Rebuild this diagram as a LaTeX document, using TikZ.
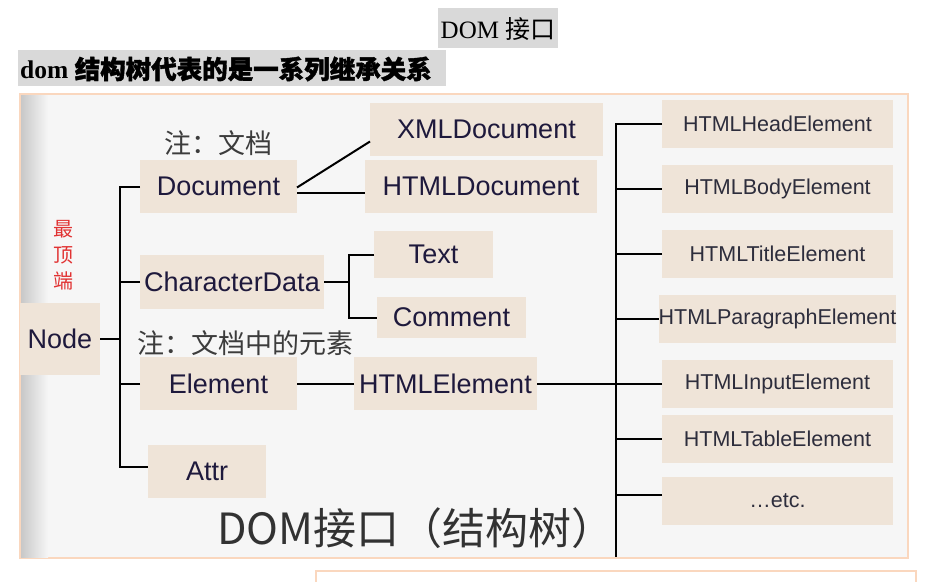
\documentclass[tikz,border=0pt]{standalone}
\usepackage{fontspec}
\setmainfont{Liberation Serif}
\newfontfamily\sansfont{Liberation Sans}
\newfontfamily\cjkfont{Noto Sans CJK SC}
\newfontfamily\cjkboldfont{Noto Sans CJK SC}[FakeBold=1.5]
\definecolor{classfill}{RGB}{239,228,216}
\definecolor{classink}{RGB}{30,25,60}
\definecolor{subink}{RGB}{45,45,60}
\definecolor{notegray}{RGB}{60,60,60}
\definecolor{captionink}{RGB}{50,50,50}
\definecolor{topred}{RGB}{225,50,50}
\definecolor{framepeach}{RGB}{250,215,190}
\definecolor{framefill}{RGB}{246,246,246}
\definecolor{shadowgray}{RGB}{200,200,200}
\definecolor{hlgray}{RGB}{217,217,217}
\tikzstyle{classbox}=[fill=classfill, inner sep=0, outer sep=0, text=classink,
                      font=\sansfont\fontsize{27}{27}\selectfont]
\tikzstyle{subclassbox}=[classbox, minimum width=231, minimum height=48, text=subink,
                         font=\sansfont\fontsize{21.5}{21.5}\selectfont]
\tikzstyle{notetext}=[inner sep=0, text=notegray, font=\cjkfont\fontsize{27}{27}\selectfont]
\tikzstyle{link}=[line width=2pt, black]

\begin{document}
\begin{tikzpicture}[x=1pt, y=-1pt]
    \useasboundingbox (0,0) rectangle (936,581);
    \clip (0,0) rectangle (936,581);
    % Headings above the frame.
    \fill[hlgray] (438,8) rectangle (558,48);
    \node[inner sep=0, font=\fontsize{25}{25}\selectfont] (heading) at (498,29) {DOM {\cjkfont 接口}};
    \fill[hlgray] (18,50) rectangle (446,86);
    \node[anchor=west, inner sep=0, font=\bfseries\fontsize{25.5}{25.5}\selectfont] (subheading) at (20,69)
        {dom {\cjkboldfont 结构树代表的是一系列继承关系}};
    % Frame.
    \draw[framepeach, line width=2pt, fill=framefill] (20,94) rectangle (908,558);
    \shade[left color=shadowgray, right color=framefill] (21,95) rectangle (48,557);
    \draw[framepeach, line width=2pt, fill=white] (316,571) rectangle (916,600);

    \node[classbox, minimum width=80, minimum height=72] (node) at (60,339) {Node};
    \node[classbox, minimum width=157, minimum height=53] (document) at (218.5,186.5) {Document};
    \node[classbox, minimum width=184, minimum height=54] (chardata) at (232,282) {CharacterData};
    \node[classbox, minimum width=157, minimum height=53] (element) at (218.5,383.5) {Element};
    \node[classbox, minimum width=118, minimum height=53] (attr) at (207,471.5) {Attr};
    \node[classbox, minimum width=233, minimum height=53] (xmldoc) at (486.5,129.5) {XMLDocument};
    \node[classbox, minimum width=232, minimum height=53] (htmldoc) at (481,186.5) {HTMLDocument};
    \node[classbox, minimum width=119, minimum height=47] (text) at (433.5,254.5) {Text};
    \node[classbox, minimum width=149, minimum height=41] (comment) at (451.5,317.5) {Comment};
    \node[classbox, minimum width=183, minimum height=53] (htmlel) at (445.5,383.5) {HTMLElement};
    \foreach \name/\y/\label in {headel/124/HTMLHeadElement, bodyel/189/HTMLBodyElement,
                                 titleel/254/HTMLTitleElement, parael/319/HTMLParagraphElement,
                                 inputel/383.5/HTMLInputElement, tableel/438.5/HTMLTableElement,
                                 etcel/500.5/…etc.}
        \node[subclassbox] (\name) at (777.5,\y) {\label};

    \node[notetext] (docnote) at (218,143) {注：文档};
    \node[notetext] (elnote) at (245,343) {注：文档中的元素};
    \node[inner sep=0, text=topred, align=center, font=\cjkfont\fontsize{20}{26}\selectfont] (topmark) at (63,255) {最\\顶\\端};
    \node[inner sep=0, text=captionink, font=\cjkfont\fontsize{43}{43}\selectfont] (caption) at (416,528) {DOM接口（结构树）};

    % Left spine.
    \coordinate (lspine) at (120,339);
    \draw[link] (node.east) -- (lspine);
    \draw[link] (document.west) -| (lspine) |- ([yshift=5pt]attr.west);
    \draw[link] (chardata.west) -- (chardata.west -| lspine);
    \draw[link] (element.west) -- (element.west -| lspine);
    \draw[link] ([yshift=-1pt]document.east) -- ([yshift=-12pt]xmldoc.west);
    \draw[link] ([yshift=-6pt]document.east) -- ([yshift=-6pt]document.east -| htmldoc.west);
    \coordinate (cdfork) at (349,282);
    \draw[link] (chardata.east) -- (cdfork);
    \draw[link] (text.west) -| (cdfork) |- (comment.west);
    \draw[link] (element.east) -- (htmlel.west);
    % Right spine.
    \coordinate (rspine) at (616,383.5);
    \coordinate (rend) at (616,557);
    \draw[link] (htmlel.east) -- (rspine);
    \draw[link] (headel.west) -| (rend);
    \foreach \name in {bodyel,titleel,parael,inputel,tableel}
        \draw[link] (\name.west) -- (\name.west -| rspine);
    \draw[link] ([yshift=6pt]etcel.west) -- ([yshift=6pt]etcel.west -| rspine);
\end{tikzpicture}
\end{document}
